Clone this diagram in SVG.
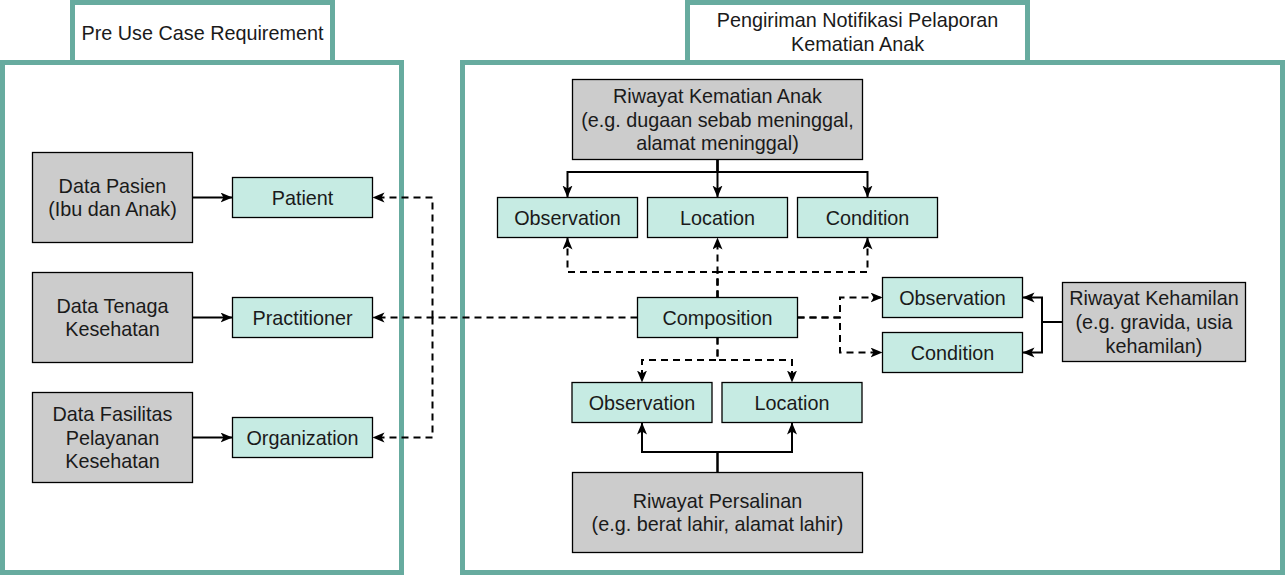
<svg xmlns="http://www.w3.org/2000/svg" width="1285" height="575" viewBox="0 0 1285 575">
<style>
.frame{fill:#fff;stroke:#67AB9F;stroke-width:5}
.src{fill:#CCCCCC;stroke:#000;stroke-width:1.3}
.res{fill:#C6EBE3;stroke:#000;stroke-width:1.3}
text{font-family:"Liberation Sans",Arial,Helvetica,sans-serif;font-size:19.8px;fill:#1a1a1a;text-anchor:middle}
.e{fill:none;stroke:#000;stroke-width:2}
.d{fill:none;stroke:#000;stroke-width:2;stroke-dasharray:7 5}
</style>
<defs>
<marker id="arr" markerUnits="userSpaceOnUse" markerWidth="14" markerHeight="12" refX="12" refY="5" orient="auto" viewBox="0 0 14 12">
<path d="M0,0 L12,5 L0,10 L3,5 Z" fill="#000"/>
</marker>
</defs>
<g id="frame-pre">
<rect class="frame" x="72.5" y="2.5" width="260" height="60"/>
<rect class="frame" x="2.5" y="62.5" width="399" height="510"/>
<text x="202.5" y="39.5">Pre Use Case Requirement</text>
</g>
<g id="frame-notif">
<rect class="frame" x="687.5" y="2.5" width="340" height="60"/>
<rect class="frame" x="462.5" y="62.5" width="820" height="510"/>
<text x="857.5" y="27">Pengiriman Notifikasi Pelaporan</text>
<text x="857.5" y="50.8">Kematian Anak</text>
</g>
<g id="connectors">
<path class="e" d="M192.5,197.5 H232.5" marker-end="url(#arr)"/>
<path class="e" d="M192.5,317.5 H232.5" marker-end="url(#arr)"/>
<path class="e" d="M192.5,437.5 H232.5" marker-end="url(#arr)"/>
<path class="d" d="M637.5,317.5 H372.5" marker-end="url(#arr)"/>
<path class="d" d="M432.5,317.5 V197.5 H372.5" marker-end="url(#arr)"/>
<path class="d" d="M432.5,317.5 V437.5 H372.5" marker-end="url(#arr)"/>
<path class="e" d="M717.5,159.5 V197.5" marker-end="url(#arr)"/>
<path class="e" d="M717.5,159.5 V172 H567.5 V197.5" marker-end="url(#arr)"/>
<path class="e" d="M717.5,159.5 V172 H867.5 V197.5" marker-end="url(#arr)"/>
<path class="d" d="M717.5,297.5 V237.5" marker-end="url(#arr)"/>
<path class="d" d="M717.5,297.5 V272 H567.5 V237.5" marker-end="url(#arr)"/>
<path class="d" d="M717.5,297.5 V272 H867.5 V237.5" marker-end="url(#arr)"/>
<path class="d" d="M717.5,337.5 V360 H642 V382.5" marker-end="url(#arr)"/>
<path class="d" d="M717.5,337.5 V360 H792 V382.5" marker-end="url(#arr)"/>
<path class="e" d="M717.5,472.5 V452 H642 V422.5" marker-end="url(#arr)"/>
<path class="e" d="M717.5,472.5 V452 H792 V422.5" marker-end="url(#arr)"/>
<path class="d" d="M797.5,317.5 H840 V297.5 H882.5" marker-end="url(#arr)"/>
<path class="d" d="M797.5,317.5 H840 V352.5 H882.5" marker-end="url(#arr)"/>
<path class="e" d="M1062.5,322 H1042 V297.5 H1022.5" marker-end="url(#arr)"/>
<path class="e" d="M1062.5,322 H1042 V352.5 H1022.5" marker-end="url(#arr)"/>
</g>
<g id="data-pasien">
<rect class="src" x="32.5" y="152.5" width="160" height="90"/>
<text x="112.5" y="192.6">Data Pasien</text>
<text x="112.5" y="216.4">(Ibu dan Anak)</text>
</g>
<g id="data-tenaga">
<rect class="src" x="32.5" y="272.5" width="160" height="90"/>
<text x="112.5" y="312.6">Data Tenaga</text>
<text x="112.5" y="336.4">Kesehatan</text>
</g>
<g id="data-fasilitas">
<rect class="src" x="32.5" y="392.5" width="160" height="90"/>
<text x="112.5" y="420.7">Data Fasilitas</text>
<text x="112.5" y="444.5">Pelayanan</text>
<text x="112.5" y="468.3">Kesehatan</text>
</g>
<g id="patient">
<rect class="res" x="232.5" y="177.5" width="140" height="40"/>
<text x="302.5" y="204.5">Patient</text>
</g>
<g id="practitioner">
<rect class="res" x="232.5" y="297.5" width="140" height="40"/>
<text x="302.5" y="324.5">Practitioner</text>
</g>
<g id="organization">
<rect class="res" x="232.5" y="417.5" width="140" height="40"/>
<text x="302.5" y="444.5">Organization</text>
</g>
<g id="riwayat-kematian">
<rect class="src" x="572.5" y="79.5" width="290" height="80"/>
<text x="717.5" y="102.7">Riwayat Kematian Anak</text>
<text x="717.5" y="126.5">(e.g. dugaan sebab meninggal,</text>
<text x="717.5" y="150.3">alamat meninggal)</text>
</g>
<g id="observation-1">
<rect class="res" x="497.5" y="197.5" width="140" height="40"/>
<text x="567.5" y="224.5">Observation</text>
</g>
<g id="location-1">
<rect class="res" x="647.5" y="197.5" width="140" height="40"/>
<text x="717.5" y="224.5">Location</text>
</g>
<g id="condition-1">
<rect class="res" x="797.5" y="197.5" width="140" height="40"/>
<text x="867.5" y="224.5">Condition</text>
</g>
<g id="composition">
<rect class="res" x="637.5" y="297.5" width="160" height="40"/>
<text x="717.5" y="324.5">Composition</text>
</g>
<g id="observation-2">
<rect class="res" x="572" y="382.5" width="140" height="40"/>
<text x="642" y="409.5">Observation</text>
</g>
<g id="location-2">
<rect class="res" x="722" y="382.5" width="140" height="40"/>
<text x="792" y="409.5">Location</text>
</g>
<g id="riwayat-persalinan">
<rect class="src" x="572.5" y="472.5" width="290" height="80"/>
<text x="717.5" y="507.6">Riwayat Persalinan</text>
<text x="717.5" y="531.4">(e.g. berat lahir, alamat lahir)</text>
</g>
<g id="observation-3">
<rect class="res" x="882.5" y="277.5" width="140" height="40"/>
<text x="952.5" y="304.5">Observation</text>
</g>
<g id="condition-3">
<rect class="res" x="882.5" y="332.5" width="140" height="40"/>
<text x="952.5" y="359.5">Condition</text>
</g>
<g id="riwayat-kehamilan">
<rect class="src" x="1062.5" y="282.5" width="183" height="79"/>
<text x="1154" y="305.2">Riwayat Kehamilan</text>
<text x="1154" y="329">(e.g. gravida, usia</text>
<text x="1154" y="352.8">kehamilan)</text>
</g>
</svg>
